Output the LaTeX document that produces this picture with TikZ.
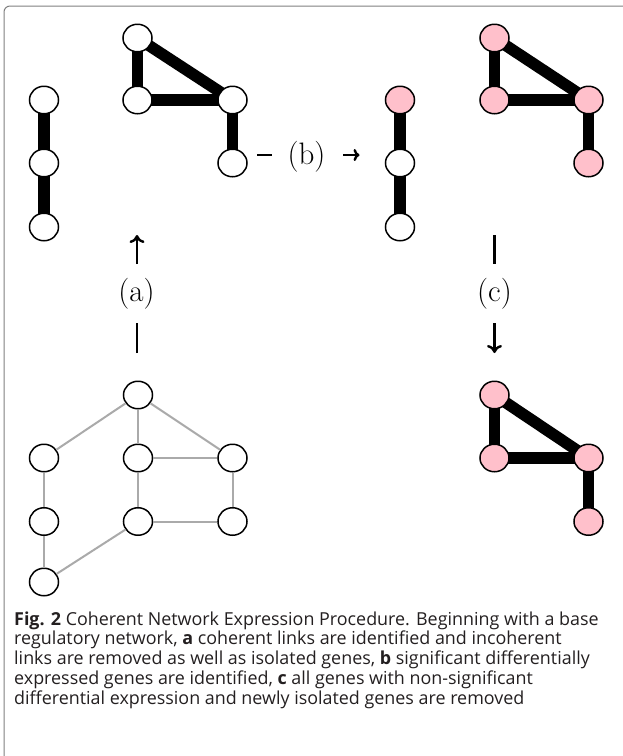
\documentclass[tikz,border=0pt]{standalone}
\usepackage{fontspec}
\newfontfamily\capfont{Open Sans}
\usetikzlibrary{shapes.geometric,arrows.meta,backgrounds}
\definecolor{nodepink}{HTML}{FFC0CB}
\definecolor{edgegray}{HTML}{AAAAAA}
\definecolor{capcolor}{HTML}{231F20}
\definecolor{framegray}{HTML}{808080}
\begin{document}
\begin{tikzpicture}[x=1pt,y=-1pt,
  gene/.style={ellipse,draw=black,line width=1.5pt,fill=white,minimum width=29pt,minimum height=27.5pt,inner sep=0pt},
  sig/.style={gene,fill=nodepink},
  strong/.style={line width=11.5pt,draw=black},
  weak/.style={line width=2pt,draw=edgegray},
  stepbar/.style={line width=2.6pt,draw=black},
  stepvert/.style={line width=2.4pt,draw=black,-{To[length=8pt,width=15pt]}},
  stephor/.style={line width=2.4pt,draw=black,-{To[length=6pt,width=12pt]}},
  lab/.style={font=\fontsize{31}{31}\selectfont,inner sep=0pt},
  capline/.style={anchor=base west,inner sep=0pt,font=\capfont\fontsize{17.9}{19}\selectfont,text=capcolor}
]
\useasboundingbox (0,0) rectangle (623,756);
\clip (0,0) rectangle (623,756);
\draw[framegray,line width=1pt,rounded corners=6pt] (4,780) -- (4,6) -- (650,6);

% top-left: chain and triangle
\node[gene] (L1) at (44,100) {};
\node[gene] (L2) at (44,163) {};
\node[gene] (L3) at (44,227) {};
\node[gene] (T1) at (137.5,38) {};
\node[gene] (T2) at (137.5,100) {};
\node[gene] (T3) at (232.5,100) {};
\node[gene] (T4) at (232.5,163) {};

% middle chain
\node[sig]  (M1) at (400,100) {};
\node[gene] (M2) at (400,163) {};
\node[gene] (M3) at (400,227) {};
% top-right pink
\node[sig] (P1) at (494.5,38) {};
\node[sig] (P2) at (494.5,100) {};
\node[sig] (P3) at (588.5,100) {};
\node[sig] (P4) at (588.5,163) {};

% bottom-left base network
\node[gene] (B1) at (138,395) {};
\node[gene] (B2) at (44,458) {};
\node[gene] (B3) at (138,458) {};
\node[gene] (B4) at (232.5,458) {};
\node[gene] (B5) at (44,521.5) {};
\node[gene] (B6) at (138,521.5) {};
\node[gene] (B7) at (232.5,521.5) {};
\node[gene] (B8) at (44,582) {};

% bottom-right final
\node[sig] (Q1) at (494.5,395) {};
\node[sig] (Q2) at (494.5,458) {};
\node[sig] (Q3) at (588.5,458) {};
\node[sig] (Q4) at (588.5,521.5) {};

\begin{scope}[on background layer]
\draw[strong] (L1.center) -- (L2.center);
\draw[strong] (L2.center) -- (L3.center);
\draw[strong] (T1.center) -- (T2.center);
\draw[strong] (T1.center) -- (T3.center);
\draw[strong] (T2.center) -- (T3.center);
\draw[strong] (T3.center) -- (T4.center);
\draw[strong] (M1.center) -- (M2.center);
\draw[strong] (M2.center) -- (M3.center);
\draw[strong] (P1.center) -- (P2.center);
\draw[strong] (P1.center) -- (P3.center);
\draw[strong] (P2.center) -- (P3.center);
\draw[strong] (P3.center) -- (P4.center);
\draw[strong] (Q1.center) -- (Q2.center);
\draw[strong] (Q1.center) -- (Q3.center);
\draw[strong] (Q2.center) -- (Q3.center);
\draw[strong] (Q3.center) -- (Q4.center);
\end{scope}

\draw[weak] (B1) -- (B2);
\draw[weak] (B1) -- (B3);
\draw[weak] (B1) -- (B4);
\draw[weak] (B2) -- (B5);
\draw[weak] (B5) -- (B8);
\draw[weak] (B3) -- (B4);
\draw[weak] (B3) -- (B6);
\draw[weak] (B4) -- (B7);
\draw[weak] (B6) -- (B7);
\draw[weak] (B6) -- (B8);

% step (a)
\coordinate (a0) at (137,353);
\coordinate (a1) at (137,323);
\coordinate (a2) at (137,264);
\coordinate (a3) at (137,235);
\draw[stepbar] (a0) -- (a1);
\draw[stepvert] (a2) -- (a3);
\node[lab] (la) at (136.5,294) {(a)};
% step (b)
\coordinate (b0) at (257,155);
\coordinate (b1) at (272,155);
\coordinate (b2) at (343,155);
\coordinate (b3) at (359.5,155);
\draw[stepbar] (b0) -- (b1);
\draw[stephor] (b2) -- (b3);
\node[lab] (lb) at (306.5,157) {(b)};
% step (c)
\coordinate (c0) at (494.5,235);
\coordinate (c1) at (494.5,264);
\coordinate (c2) at (494.5,323);
\coordinate (c3) at (494.5,353);
\draw[stepbar] (c0) -- (c1);
\draw[stepvert] (c2) -- (c3);
\node[lab] (lc) at (494.5,294) {(c)};

% caption
\node[capline] (cap1) at (14,625) {\textbf{Fig. 2} Coherent Network Expression Procedure. Beginning with a base};
\node[capline] (cap2) at (14,644.8) {regulatory network, \textbf{a} coherent links are identified and incoherent};
\node[capline] (cap3) at (14,664.5) {links are removed as well as isolated genes, \textbf{b} significant differentially};
\node[capline] (cap4) at (14,684.3) {expressed genes are identified, \textbf{c} all genes with non-significant};
\node[capline] (cap5) at (14,704) {differential expression and newly isolated genes are removed};
\end{tikzpicture}
\end{document}
